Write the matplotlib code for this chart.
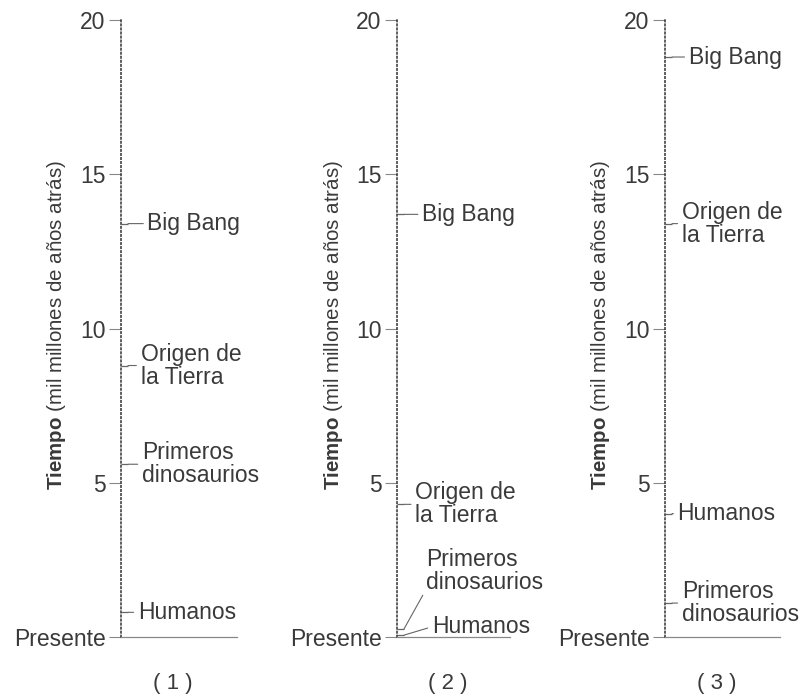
import matplotlib
matplotlib.use("Agg")
import matplotlib.pyplot as plt

plt.rcParams['font.family'] = ['Liberation Sans', 'DejaVu Sans']
plt.rcParams['mathtext.fontset'] = 'custom'
plt.rcParams['mathtext.bf'] = 'Liberation Sans:bold'
plt.rcParams['mathtext.rm'] = 'Liberation Sans'

# event names (same order in every panel)
events = ['Big Bang', 'Origen de\nla Tierra', 'Primeros\ndinosaurios', 'Humanos']

# time of each event, thousand million years ago, per option
panel1 = [13.4, 8.8, 5.6, 0.8]
panel2 = [13.7, 4.3, 0.26, 0.06]
panel3 = [18.8, 13.4, 1.1, 4.0]

panel_names = ['( 1 )', '( 2 )', '( 3 )']
tick_values = [0, 5, 10, 15, 20]
tick_labels = ['Presente', '5', '10', '15', '20']
ylabel = r'$\mathbf{Tiempo}$ (mil millones de años atrás)'

# label offsets from the event (points): dx, dy
offsets1 = [(14, 0), (9, 0), (10, 0), (7, 0)]
offsets2 = [(13, 0), (8, 0), (16, 42), (20, 6)]
offsets3 = [(12, 0), (7, 0), (7, 0), (4, 0)]

text_col = '#3a3a3a'
line_col = '#666666'

fig = plt.figure(figsize=(8.05, 6.99), dpi=100)

lefts = [121, 397, 665]
widths = [116, 113, 115]
bottom_px, top_px = 637, 20
H = 699.0
W = 805.0

all_panels = [panel1, panel2, panel3]
all_offsets = [offsets1, offsets2, offsets3]

for i in range(3):
    ax = fig.add_axes([lefts[i] / W, (H - bottom_px) / H,
                       widths[i] / W, (bottom_px - top_px) / H])
    ax.set_xlim(0, 1)
    ax.set_ylim(0, 20)
    for s in ['top', 'right']:
        ax.spines[s].set_visible(False)
    ax.spines['left'].set_linestyle(':')
    ax.spines['left'].set_color('#333333')
    ax.spines['left'].set_linewidth(1.1)
    ax.spines['bottom'].set_color('#888888')
    ax.spines['bottom'].set_linewidth(0.9)
    ax.set_xticks([])
    ax.set_yticks(tick_values)
    ax.set_yticklabels(tick_labels)
    ax.tick_params(axis='y', length=9, width=0.8, color='#888888',
                   labelsize=16.5, labelcolor=text_col, pad=2)

    ax.text(-0.56, 0.505, ylabel, rotation=90, ha='center', va='center',
            fontsize=14.8, color=text_col, transform=ax.transAxes)

    vals = all_panels[i]
    offs = all_offsets[i]
    tick_end = 7.0 / widths[i]
    for name, v, (dx, dy) in zip(events, vals, offs):
        ax.hlines(v, 0, tick_end, color=line_col, lw=0.9)
        rel = (0, 0.1) if dy > 20 else (0, 0.5)
        ax.annotate(name, xy=(tick_end, v), xytext=(dx, dy),
                    textcoords='offset points', ha='left', va='center',
                    fontsize=16.5, color=text_col, linespacing=1.0,
                    annotation_clip=False,
                    arrowprops=dict(arrowstyle='-', color=line_col, lw=0.8,
                                    shrinkA=1, shrinkB=0, relpos=rel))

    ax.text(0.45, -0.075, panel_names[i], ha='center', va='center',
            fontsize=16, color=text_col, transform=ax.transAxes)

fig.savefig('out.png', dpi=100, facecolor='white')
